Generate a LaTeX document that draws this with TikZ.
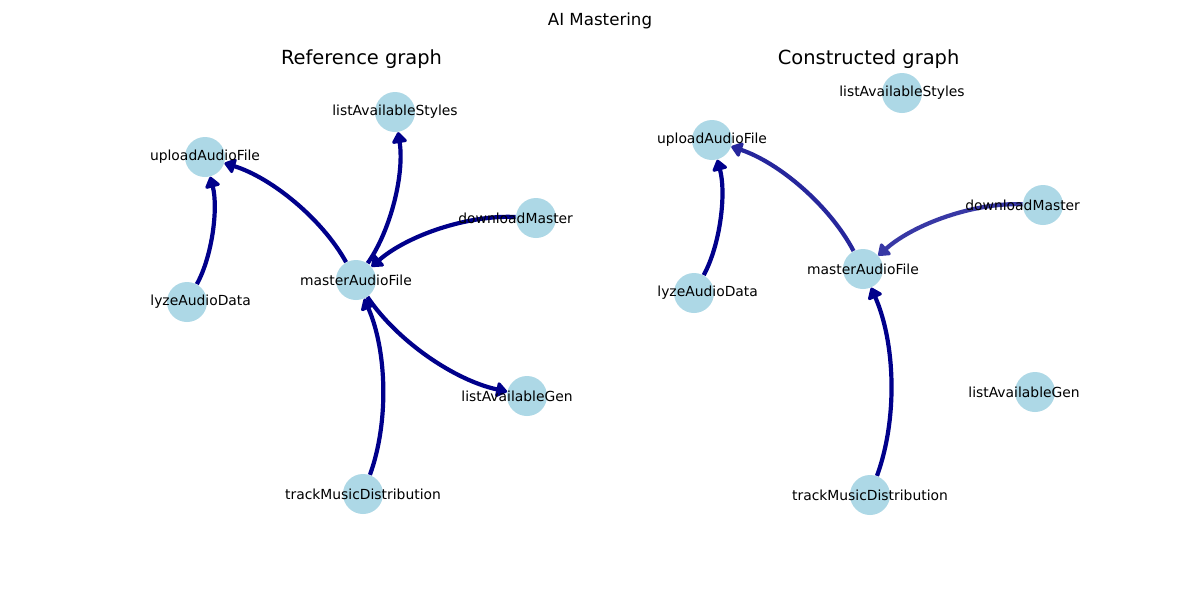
\documentclass[tikz,border=0pt]{standalone}
\usepackage{fontspec}
\setmainfont{DejaVu Sans}
\usetikzlibrary{calc,arrows.meta}
\definecolor{darkblueE}{RGB}{0,0,139}
\definecolor{blueA}{RGB}{38,38,156}
\definecolor{blueB}{RGB}{56,56,165}
\definecolor{nodeblue}{RGB}{173,216,230}
\tikzset{
  gnode/.style={circle,fill=nodeblue,draw=none,minimum size=20pt,inner sep=0pt},
  glabel/.style={inner sep=0pt,font=\fontsize{6.94}{8}\selectfont,text=black},
  gedgestyle/.style={line width=2.1pt,-{Triangle[length=6pt,width=8.5pt,round]}},
  suptitlestyle/.style={inner sep=0pt,font=\fontsize{8.33}{10}\selectfont},
  subtitlestyle/.style={inner sep=0pt,font=\fontsize{9.72}{12}\selectfont}
}
\newcommand\gedge[3][darkblueE]{%
  \coordinate (qq) at ($(#2)!0.5!(#3)!0.4!-90:(#3)$);
  \draw[gedgestyle,draw=#1] (#2) .. controls ($(#2)!2/3!(qq)$) and ($(#3)!2/3!(qq)$) .. (#3);
}
\begin{document}
\begin{tikzpicture}[x=0.5pt,y=-0.5pt]
\useasboundingbox[fill=white] (0,0) rectangle (1200,600);
% titles
\node[suptitlestyle] (sup) at (600,21) {AI Mastering};
\node[subtitlestyle] (t1) at (361.5,59) {Reference graph};
\node[subtitlestyle] (t2) at (868.6,59) {Constructed graph};
% left nodes
\node[gnode] (Lup) at (205,157) {};
\node[gnode] (Lsty) at (395,112) {};
\node[gnode] (Ldl) at (536,218) {};
\node[gnode] (Lma) at (356,280) {};
\node[gnode] (Lan) at (187,302) {};
\node[gnode] (Lgen) at (527,396) {};
\node[gnode] (Ltr) at (363,494) {};
% right nodes
\node[gnode] (Rup) at (712,140) {};
\node[gnode] (Rsty) at (902,93) {};
\node[gnode] (Rdl) at (1043,205) {};
\node[gnode] (Rma) at (863,269) {};
\node[gnode] (Ran) at (694,293) {};
\node[gnode] (Rgen) at (1035,392) {};
\node[gnode] (Rtr) at (870,495) {};
% left edges
\gedge{Lma}{Lup}
\gedge{Lan}{Lup}
\gedge{Lma}{Lsty}
\gedge{Ldl}{Lma}
\gedge{Lma}{Lgen}
\gedge{Ltr}{Lma}
% right edges
\gedge[blueA]{Rma}{Rup}
\gedge{Ran}{Rup}
\gedge[blueB]{Rdl}{Rma}
\gedge{Rtr}{Rma}
% left labels
\node[glabel] (lLup) at (Lup) {uploadAudioFile};
\node[glabel] (lLsty) at (Lsty) {listAvailableStyles};
\node[glabel,anchor=west] (lLdl) at (458,218) {downloadMaster};
\node[glabel] (lLma) at (Lma) {masterAudioFile};
\node[glabel,anchor=west] (lLan) at (150,302) {lyzeAudioData};
\node[glabel,anchor=west] (lLgen) at (461,396) {listAvailableGen};
\node[glabel] (lLtr) at (Ltr) {trackMusicDistribution};
% right labels
\node[glabel] (lRup) at (Rup) {uploadAudioFile};
\node[glabel] (lRsty) at (Rsty) {listAvailableStyles};
\node[glabel,anchor=west] (lRdl) at (965,205) {downloadMaster};
\node[glabel] (lRma) at (Rma) {masterAudioFile};
\node[glabel,anchor=west] (lRan) at (657,293) {lyzeAudioData};
\node[glabel,anchor=west] (lRgen) at (968,392) {listAvailableGen};
\node[glabel] (lRtr) at (Rtr) {trackMusicDistribution};
\end{tikzpicture}
\end{document}
